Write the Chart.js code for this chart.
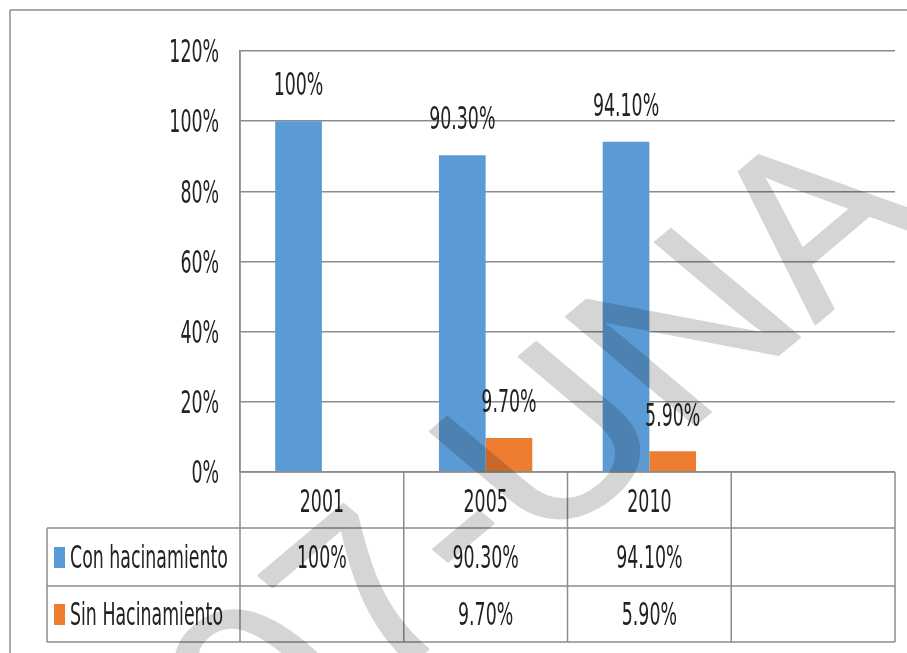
<!DOCTYPE html>
<html>
<head>
<meta charset="utf-8">
<script src="https://cdn.jsdelivr.net/npm/chart.js@4"></script>
<style>
  html, body { margin: 0; padding: 0; background: #fff; }
  canvas { display: block; }
</style>
</head>
<body>
<canvas id="myChart" width="907" height="653"></canvas>
<script>
// data
const categories = ['2001', '2005', '2010', ''];
const conHacinamiento = [100, 90.3, 94.1, null];
const sinHacinamiento = [null, 9.7, 5.9, null];
const seriesNames = ['Con hacinamiento', 'Sin Hacinamiento'];
const seriesColors = ['#5B9BD5', '#ED7D31'];
const yMin = 0, yMax = 120, yStep = 20;
const watermarkText = '07-UNA';

const FAMILY = '"Liberation Sans Narrow", "Arial Narrow", "DejaVu Sans Condensed", "Open Sans", sans-serif';
const lineColor = '#8c8c8c';
const textColor = '#222';

function pct(v) {
    return Number.isInteger(v) ? v + '%' : v.toFixed(2) + '%';
}

// pick a size that gives the narrow, tall look of the original
let fontPx = 24, digitH = 17, stretch = 1.3;
(function setupFont() {
    const c = document.createElement('canvas').getContext('2d');
    c.font = '100px ' + FAMILY;
    const w = c.measureText('Con hacinamiento').width;
    fontPx = 100 * 158 / w;
    c.font = fontPx + 'px ' + FAMILY;
    digitH = c.measureText('0').actualBoundingBoxAscent || fontPx * 0.72;
    stretch = 22.5 / digitH;
})();

function label(ctx, text, x, yMid, align) {
    ctx.save();
    ctx.font = fontPx + 'px ' + FAMILY;
    ctx.fillStyle = textColor;
    ctx.textAlign = align || 'center';
    ctx.textBaseline = 'alphabetic';
    ctx.translate(x, yMid);
    ctx.scale(1, stretch);
    ctx.fillText(text, 0, digitH / 2);
    ctx.restore();
}

function line(ctx, x1, y1, x2, y2) {
    ctx.beginPath();
    ctx.moveTo(x1, y1);
    ctx.lineTo(x2, y2);
    ctx.stroke();
}

const tablePlugin = {
    id: 'tablePlugin',
    beforeDraw(chart) {
        const ctx = chart.ctx;
        ctx.save();
        ctx.fillStyle = '#fff';
        ctx.fillRect(0, 0, chart.width, chart.height);
        // outer frame
        ctx.strokeStyle = lineColor;
        ctx.lineWidth = 1.5;
        line(ctx, 10, 10, chart.width, 10);
        line(ctx, 10, 10, 10, chart.height);
        ctx.restore();
    },
    afterDraw(chart) {
        const ctx = chart.ctx;
        const area = chart.chartArea;
        const xs = chart.scales.x;
        const ys = chart.scales.y;
        const rowH = [56, 58, 56];
        const tableLeft = 47;
        const r0 = area.bottom, r1 = r0 + rowH[0], r2 = r1 + rowH[1], r3 = r2 + rowH[2];
        const step = (area.right - area.left) / categories.length;

        // y tick labels
        ys.ticks.forEach(t => {
            label(ctx, t.value + '%', 219, ys.getPixelForValue(t.value), 'right');
        });

        // value labels above bars
        chart.data.datasets.forEach((ds, di) => {
            const meta = chart.getDatasetMeta(di);
            meta.data.forEach((bar, i) => {
                const v = ds.data[i];
                if (v === null) return;
                label(ctx, pct(v), bar.x, bar.y - 37, 'center');
            });
        });

        // data table
        ctx.save();
        ctx.strokeStyle = lineColor;
        ctx.lineWidth = 1.5;
        line(ctx, area.left, r0, area.right, r0);
        [r1, r2, r3].forEach(y => line(ctx, tableLeft, y, area.right, y));
        line(ctx, tableLeft, r1, tableLeft, r3);
        line(ctx, area.left, area.top, area.left, r3);
        for (let i = 1; i <= categories.length; i++) {
            const x = area.left + step * i;
            line(ctx, x, r0, x, r3);
        }
        ctx.restore();

        categories.forEach((c, i) => {
            const x = xs.getPixelForValue(i);
            label(ctx, c, x, (r0 + r1) / 2 + 1, 'center');
            const a = conHacinamiento[i], b = sinHacinamiento[i];
            if (a !== null) label(ctx, pct(a), x, (r1 + r2) / 2, 'center');
            if (b !== null) label(ctx, pct(b), x, (r2 + r3) / 2, 'center');
        });

        [[r1, r2], [r2, r3]].forEach((r, k) => {
            const mid = (r[0] + r[1]) / 2;
            ctx.fillStyle = seriesColors[k];
            ctx.fillRect(54, mid - 10, 11, 21);
            label(ctx, seriesNames[k], 70, mid, 'left');
        });

        // watermark
        const wm = document.createElement('canvas');
        wm.width = chart.width;
        wm.height = chart.height;
        const w = wm.getContext('2d');
        const em = 265;
        w.translate(462, 535);
        w.scale(1, 0.84);
        w.rotate(-Math.PI / 4);
        w.font = em + 'px "Liberation Sans", Arial, sans-serif';
        const pre = w.measureText('07').width + w.measureText('-').width / 2;
        w.fillStyle = '#000';
        w.strokeStyle = '#000';
        w.lineWidth = 2.5;
        w.lineJoin = 'round';
        w.fillText(watermarkText, -pre, 0.273 * em);
        w.strokeText(watermarkText, -pre, 0.273 * em);
        ctx.save();
        ctx.globalAlpha = 0.16;
        ctx.drawImage(wm, 0, 0);
        ctx.restore();
    }
};

const ctx = document.getElementById('myChart').getContext('2d');
new Chart(ctx, {
    type: 'bar',
    data: {
        labels: categories,
        datasets: [{
            label: seriesNames[0],
            data: conHacinamiento,
            backgroundColor: seriesColors[0]
        }, {
            label: seriesNames[1],
            data: sinHacinamiento,
            backgroundColor: seriesColors[1]
        }]
    },
    options: {
        responsive: false,
        animation: false,
        devicePixelRatio: 1,
        categoryPercentage: 0.57,
        barPercentage: 1.0,
        layout: {
            padding: { left: 240, right: 12, top: 51, bottom: 181 }
        },
        plugins: {
            legend: { display: false },
            tooltip: { enabled: false }
        },
        scales: {
            x: {
                grid: { display: false, drawTicks: false },
                border: { display: false },
                ticks: { display: false }
            },
            y: {
                min: yMin,
                max: yMax,
                ticks: { display: false, stepSize: yStep },
                grid: { color: lineColor, lineWidth: 1.5, drawTicks: false },
                border: { display: true, color: lineColor, width: 1.5 }
            }
        }
    },
    plugins: [tablePlugin]
});
</script>
</body>
</html>
